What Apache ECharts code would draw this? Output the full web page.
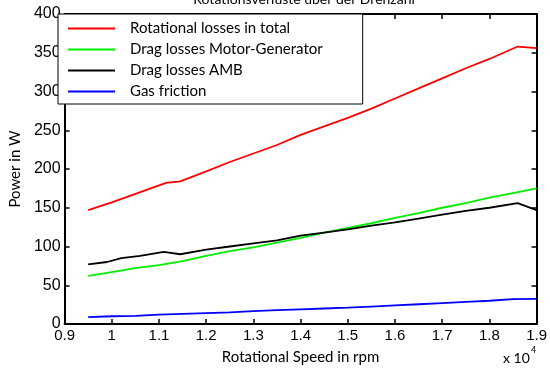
<!DOCTYPE html>
<html>
<head>
<meta charset="utf-8">
<script src="https://cdn.jsdelivr.net/npm/echarts@6/dist/echarts.min.js"></script>
<style>
  html, body { margin: 0; padding: 0; background: #fff; }
  #main { width: 550px; height: 371px; }
</style>
</head>
<body>
<div id="main"></div>
<script>
// speeds in rpm
var speed = [9500, 10000, 10500, 11150, 11450, 12000, 12500, 13000, 13500, 14000,
             14500, 15000, 15500, 16000, 16500, 17000, 17500, 18000, 18600, 19000];
var total = [147, 157, 168, 182, 184, 197, 209, 220, 231, 244,
             255, 266, 278, 291, 304, 317, 330, 342, 358, 356];
var speedB = [9500, 9900, 10200, 10600, 11100, 11450, 12000, 12500, 13000, 13500, 14000,
              14500, 15000, 15500, 16000, 16500, 17000, 17500, 18000, 18600, 19000];
var amb = [77, 80, 85, 88, 93, 90, 96, 100, 104, 108, 114,
           118, 122, 127, 131, 136, 141, 146, 150, 156, 147];
var speedG = [9500, 10000, 10500, 11000, 11500, 12000, 12500, 13000, 13500, 14000,
              14500, 15000, 15500, 16000, 16500, 17000, 17500, 18000, 18500, 19000];
var motorGen = [62, 67, 72, 76, 81, 88, 94, 99, 105, 111,
                118, 124, 130, 137, 143, 150, 156, 163, 169, 175];
var gas = [9, 10, 10.5, 12, 13, 14, 15, 16.5, 18, 19,
           20, 21, 22.5, 24, 25.5, 27, 28.5, 30, 32, 32.5];
var names = ['Rotational losses in total', 'Drag losses Motor-Generator', 'Drag losses AMB', 'Gas friction'];

function pairs(xs, ys) {
    return xs.map(function (x, i) { return [x, ys[i]]; });
}

var myChart = echarts.init(document.getElementById('main'));

var tickStyle = { show: true, inside: true, length: 5, lineStyle: { color: '#000', width: 1.5 } };
var lineStyleAxis = { show: true, onZero: false, lineStyle: { color: '#000', width: 2 } };

var option = {
    animation: false,
    title: {
        text: 'Rotationsverluste über der Drehzahl',
        left: 299,
        textAlign: 'center',
        top: -13,
        textStyle: { fontFamily: 'Lato', fontSize: 14, fontWeight: 'normal', color: '#000' }
    },
    legend: {
        data: names,
        orient: 'vertical',
        left: 58,
        top: 14,
        padding: [6, 40, 4, 10],
        itemWidth: 47,
        itemHeight: 2,
        itemGap: 4,
        borderColor: '#000',
        borderWidth: 1,
        backgroundColor: '#fff',
        icon: 'rect',
        textStyle: { fontFamily: 'Lato', fontSize: 15, lineHeight: 17, color: '#000', padding: [0, 0, 0, 10] }
    },
    grid: { left: 57, right: 9, top: 14, bottom: 47 },
    xAxis: [
        {
            type: 'value', min: 9000, max: 19000, interval: 1000,
            axisLine: lineStyleAxis, axisTick: tickStyle, splitLine: { show: false },
            axisLabel: {
                color: '#000', fontFamily: 'Liberation Sans', fontSize: 15, margin: 4,
                formatter: function (v) { return String(+(v / 10000).toFixed(1)); }
            },
            name: 'Rotational Speed in rpm', nameLocation: 'middle', nameGap: 26,
            nameTextStyle: { fontFamily: 'Lato', fontSize: 15, color: '#000' }
        },
        {
            type: 'value', min: 9000, max: 19000, interval: 1000, position: 'top',
            axisLine: lineStyleAxis, axisTick: tickStyle, axisLabel: { show: false },
            splitLine: { show: false }
        }
    ],
    yAxis: [
        {
            type: 'value', min: 0, max: 400, interval: 50,
            axisLine: lineStyleAxis, axisTick: tickStyle, splitLine: { show: false },
            axisLabel: { color: '#000', fontFamily: 'Liberation Sans', fontSize: 16, margin: 4 },
            name: 'Power in W', nameLocation: 'middle', nameGap: 30,
            nameTextStyle: { fontFamily: 'Lato', fontSize: 15, color: '#000' }
        },
        {
            type: 'value', min: 0, max: 400, interval: 50, position: 'right',
            axisLine: lineStyleAxis, axisTick: tickStyle, axisLabel: { show: false },
            splitLine: { show: false }
        }
    ],
    graphic: [
        {
            type: 'text', left: 503, top: 351,
            style: { text: 'x 10', fontFamily: 'Lato', fontSize: 14, fill: '#000' }
        },
        {
            type: 'text', left: 531, top: 346,
            style: { text: '4', fontFamily: 'Lato', fontSize: 9, fill: '#000' }
        }
    ],
    series: [
        { name: names[0], type: 'line', showSymbol: false, data: pairs(speed, total),
          color: '#ff0000', lineStyle: { width: 1.8 } },
        { name: names[1], type: 'line', showSymbol: false, data: pairs(speedG, motorGen),
          color: '#00ee00', lineStyle: { width: 1.8 } },
        { name: names[2], type: 'line', showSymbol: false, data: pairs(speedB, amb),
          color: '#000000', lineStyle: { width: 1.8 } },
        { name: names[3], type: 'line', showSymbol: false, data: pairs(speedG, gas),
          color: '#0000ff', lineStyle: { width: 1.8 } }
    ]
};

myChart.setOption(option);
</script>
</body>
</html>
